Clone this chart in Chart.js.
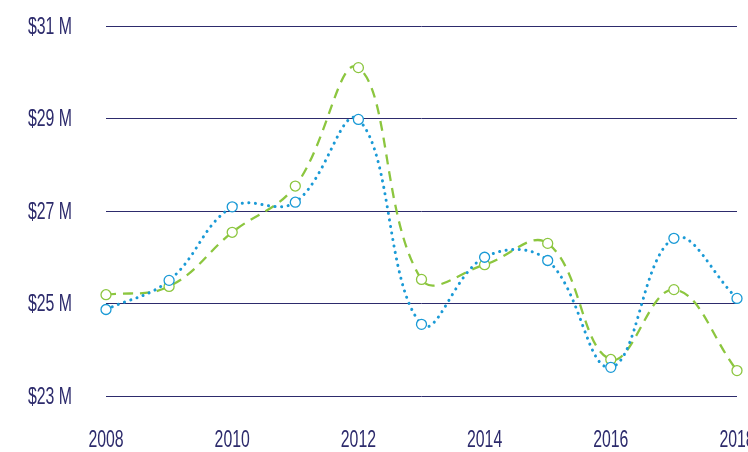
<!DOCTYPE html>
<html><head><meta charset="utf-8">
<script src="https://cdn.jsdelivr.net/npm/chart.js@4/dist/chart.umd.min.js"></script>
<style>html,body{margin:0;padding:0;background:#fff}#w{width:748px;height:452px}</style>
</head><body><div id="w"><canvas id="c"></canvas></div>
<script>
const years = ['2008','2009','2010','2011','2012','2013','2014','2015','2016','2017','2018'];
const blueSeries = [24.87, 25.50, 27.09, 27.19, 28.98, 24.55, 26.00, 25.93, 23.62, 26.41, 25.11];
const greenSeries = [25.19, 25.37, 26.54, 27.54, 30.10, 25.52, 25.84, 26.30, 23.79, 25.30, 23.55];
const yTicks = [23, 25, 27, 29, 31];

const navy = '#2d2b6c';
const FONT = "'Liberation Sans', Arial, sans-serif";

// Narrow tick labels: drawn from the library's own scales, squeezed horizontally
const narrowLabels = {
  id:'narrowLabels',
  afterDraw(chart){
    const ctx = chart.ctx, xs = chart.scales.x, ys = chart.scales.y;
    ctx.save();
    ctx.fillStyle = navy;
    ctx.font = "24px " + FONT;
    const sx = 0.66;
    // y labels
    ctx.textBaseline = 'middle';
    ctx.textAlign = 'right';
    ys.ticks.forEach(t=>{
      const y = ys.getPixelForValue(t.value);
      ctx.save(); ctx.translate(72, y + 1); ctx.scale(sx,1);
      ctx.fillText('$' + t.value + ' M', 0, 0); ctx.restore();
    });
    // x labels
    ctx.textAlign = 'center';
    years.forEach((lab,i)=>{
      if (i % 2) return;
      const x = xs.getPixelForValue(i);
      ctx.save(); ctx.translate(x, 440); ctx.scale(sx,1);
      ctx.fillText(lab, 0, 0); ctx.restore();
    });
    ctx.restore();
  }
};

new Chart(document.getElementById('c'), {
  type: 'line',
  data: {
    labels: years,
    datasets: [
      {label:'B', data: blueSeries, borderColor:'#1a9ad6', borderWidth:3, borderDash:[0.1,6.5], borderCapStyle:'round',
       tension:0.4, pointRadius:5, pointBorderWidth:1.3, pointBackgroundColor:'#fff', pointBorderColor:'#1a9ad6', fill:false},
      {label:'G', data: greenSeries, borderColor:'#8cc63f', borderWidth:2.3, borderDash:[10,7],
       tension:0.4, pointRadius:5, pointBorderWidth:1.3, pointBackgroundColor:'#fff', pointBorderColor:'#8cc63f', fill:false}
    ]
  },
  plugins:[narrowLabels],
  options: {
    responsive:true, maintainAspectRatio:false, animation:false,
    layout:{padding:{top:26, right:11, bottom:0, left:0}},
    plugins:{legend:{display:false}, tooltip:{enabled:false}},
    scales:{
      x:{
        offset:false,
        grid:{display:false, drawTicks:false},
        border:{display:false},
        ticks:{display:false},
        afterFit:function(s){ s.height = 56; s.paddingRight = 0; s.paddingLeft = 0; }
      },
      y:{
        min:23, max:31,
        afterBuildTicks:function(s){ s.ticks = yTicks.map(v=>({value:v})); },
        grid:{color:navy, lineWidth:1, drawTicks:false},
        border:{display:false},
        ticks:{display:false},
        afterFit:function(s){ s.width = 106; s.paddingTop = 0; s.paddingBottom = 0; }
      }
    }
  }
});
</script></body></html>
